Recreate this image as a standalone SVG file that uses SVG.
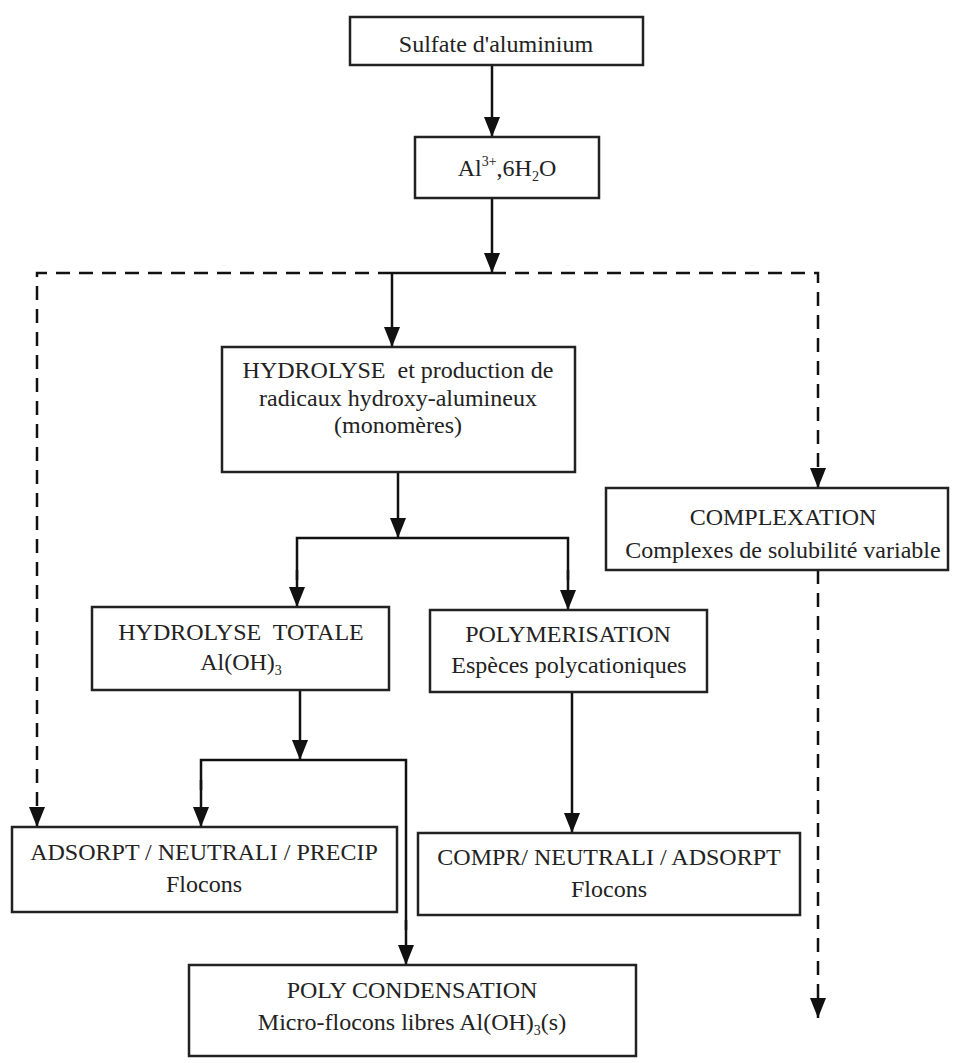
<svg xmlns="http://www.w3.org/2000/svg" width="954" height="1063" viewBox="0 0 954 1063">
<defs>
<marker id="arr" viewBox="0 0 20 16" markerWidth="20" markerHeight="16" refX="20" refY="8" orient="auto" markerUnits="userSpaceOnUse"><path d="M0,0 L20,8 L0,16 Z" fill="#111"/></marker>
</defs>
<style>
.box{fill:#fff;stroke:#222;stroke-width:2.5}
.t{font-family:"Liberation Serif","Times New Roman",serif;font-size:24px;fill:#222;text-anchor:middle}
.sm{font-size:14px}
.s{stroke:#111;stroke-width:2.5;fill:none}
.d{stroke:#111;stroke-width:2.5;fill:none;stroke-dasharray:14,9}
</style>
<rect width="954" height="1063" fill="#fff"/>
<g id="connectors">
<line class="s" x1="492" y1="65" x2="492" y2="137" marker-end="url(#arr)"/>
<line class="s" x1="492" y1="198" x2="492" y2="273" marker-end="url(#arr)"/>
<polyline class="d" points="392,273 37,273 37,827" marker-end="url(#arr)"/>
<polyline class="d" points="492,273 818,273 818,488" marker-end="url(#arr)"/>
<line class="s" x1="392" y1="273" x2="492" y2="273"/>
<line class="s" x1="392" y1="273" x2="392" y2="347" marker-end="url(#arr)"/>
<line class="d" x1="818" y1="570" x2="818" y2="1018" marker-end="url(#arr)"/>
<line class="s" x1="398" y1="472" x2="398" y2="538" marker-end="url(#arr)"/>
<polyline class="s" points="297,580 297,538 568,538 568,580"/>
<line class="s" x1="297" y1="570" x2="297" y2="607" marker-end="url(#arr)"/>
<line class="s" x1="568" y1="570" x2="568" y2="610" marker-end="url(#arr)"/>
<line class="s" x1="300" y1="690" x2="300" y2="760" marker-end="url(#arr)"/>
<polyline class="s" points="201,790 201,760 406,760 406,930"/>
<line class="s" x1="201" y1="780" x2="201" y2="827" marker-end="url(#arr)"/>
<line class="s" x1="406" y1="920" x2="406" y2="965" marker-end="url(#arr)"/>
<line class="s" x1="572" y1="692" x2="572" y2="833" marker-end="url(#arr)"/>
</g>
<g id="n-sulfate"><rect class="box" x="350" y="17" width="293" height="48"/><text class="t" x="496" y="52">Sulfate d'aluminium</text></g>
<g id="n-al"><rect class="box" x="415" y="137" width="184" height="61"/><text class="t" x="507" y="176">Al<tspan class="sm" dy="-10">3+</tspan><tspan dy="10">,6H</tspan><tspan class="sm" dy="5">2</tspan><tspan dy="-5">O</tspan></text></g>
<g id="n-hydrolyse"><rect class="box" x="222" y="347" width="353" height="125"/><text class="t" x="398" y="378" xml:space="preserve">HYDROLYSE  et production de</text><text class="t" x="398" y="406">radicaux hydroxy-alumineux</text><text class="t" x="398" y="433">(monomères)</text></g>
<g id="n-complexation"><rect class="box" x="606" y="488" width="342" height="82"/><text class="t" x="783" y="525">COMPLEXATION</text><text class="t" x="783" y="558">Complexes de solubilité variable</text></g>
<g id="n-totale"><rect class="box" x="92" y="607" width="297" height="83"/><text class="t" x="241" y="640" xml:space="preserve">HYDROLYSE  TOTALE</text><text class="t" x="241" y="670">Al(OH)<tspan class="sm" dy="5">3</tspan></text></g>
<g id="n-polymerisation"><rect class="box" x="430" y="610" width="277" height="82"/><text class="t" x="568" y="642">POLYMERISATION</text><text class="t" x="569" y="673">Espèces polycationiques</text></g>
<g id="n-adsorpt"><rect class="box" x="12" y="827" width="385" height="85"/><text class="t" x="204" y="860">ADSORPT / NEUTRALI / PRECIP</text><text class="t" x="204" y="892">Flocons</text></g>
<g id="n-compr"><rect class="box" x="418" y="833" width="382" height="82"/><text class="t" x="609" y="865">COMPR/ NEUTRALI / ADSORPT</text><text class="t" x="609" y="897">Flocons</text></g>
<g id="n-polycond"><rect class="box" x="189" y="965" width="447" height="91"/><text class="t" x="412" y="998">POLY CONDENSATION</text><text class="t" x="412" y="1030">Micro-flocons libres Al(OH)<tspan class="sm" dy="5">3</tspan><tspan dy="-5">(s)</tspan></text></g>
</svg>
